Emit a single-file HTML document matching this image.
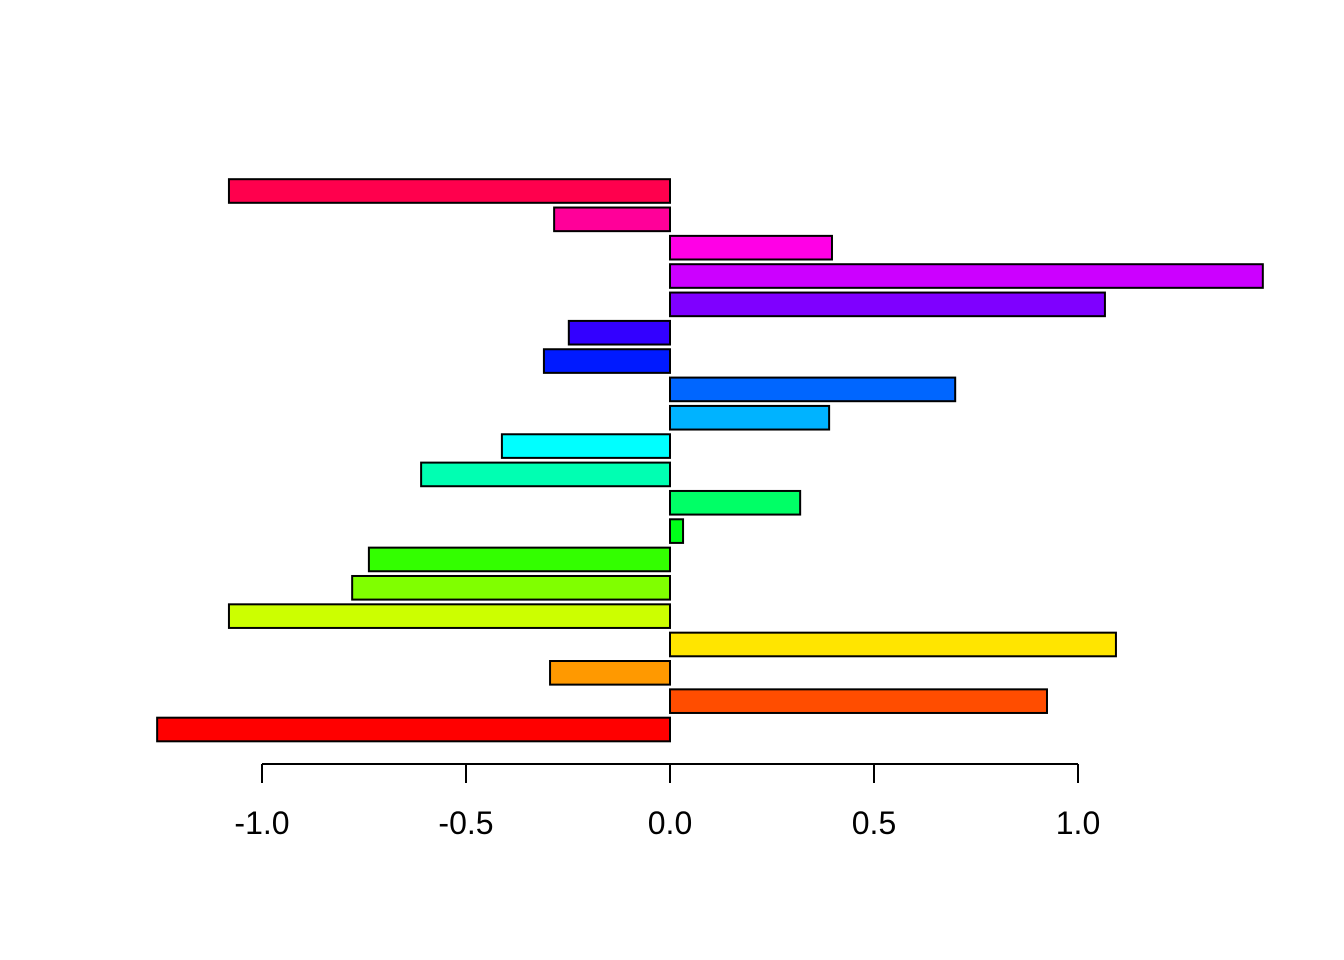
<!DOCTYPE html>
<html><head><meta charset="utf-8"><style>
html,body{margin:0;padding:0;background:#fff;}
svg{display:block;font-family:"Liberation Sans",Arial,sans-serif;}
</style></head><body>
<svg id="chart" width="1344" height="960" viewBox="0 0 1344 960" xmlns="http://www.w3.org/2000/svg">
<g id="bars"></g>
<g id="axis"></g>
</svg>
<script>
const values = [-1.257, 0.924, -0.294, 1.093, -1.081, -0.779, -0.738, 0.032, 0.319, -0.610, -0.412, 0.390, 0.699, -0.309, -0.248, 1.066, 1.453, 0.397, -0.284, -1.081];
const colors = ["#FF0000","#FF4D00","#FF9900","#FFE500","#CCFF00","#80FF00","#33FF00","#00FF19","#00FF66","#00FFB2","#00FFFF","#00B3FF","#0066FF","#001AFF","#3300FF","#7F00FF","#CC00FF","#FF00E6","#FF0099","#FF004D"];
const ticks = [-1.0, -0.5, 0.0, 0.5, 1.0];
const tickLabels = ["-1.0", "-0.5", "0.0", "0.5", "1.0"];

const NS = "http://www.w3.org/2000/svg";
const x = v => 670 + v * 408;
const step = (729.5 - 191) / 19;
const yc = i => 729.5 - i * step;
const bh = step / 1.2;

const bars = document.getElementById('bars');
values.forEach((v, i) => {
  const r = document.createElementNS(NS, 'rect');
  const x0 = Math.min(x(0), x(v)), w = Math.abs(x(v) - x(0));
  r.setAttribute('x', x0);
  r.setAttribute('y', yc(i) - bh / 2);
  r.setAttribute('width', w);
  r.setAttribute('height', bh);
  r.setAttribute('fill', colors[i]);
  r.setAttribute('stroke', '#000');
  r.setAttribute('stroke-width', '2');
  
  
  bars.appendChild(r);
});

const axis = document.getElementById('axis');
const line = document.createElementNS(NS, 'line');
line.setAttribute('x1', x(ticks[0])); line.setAttribute('x2', x(ticks[ticks.length - 1]));
line.setAttribute('y1', 764); line.setAttribute('y2', 764);
line.setAttribute('stroke', '#000'); line.setAttribute('stroke-width', '2');


axis.appendChild(line);
ticks.forEach((t, i) => {
  const tk = document.createElementNS(NS, 'line');
  tk.setAttribute('x1', x(t)); tk.setAttribute('x2', x(t));
  tk.setAttribute('y1', 764); tk.setAttribute('y2', 783);
  tk.setAttribute('stroke', '#000'); tk.setAttribute('stroke-width', '2');
  
  
  axis.appendChild(tk);
  const tx = document.createElementNS(NS, 'text');
  tx.setAttribute('x', x(t)); tx.setAttribute('y', 834);
  tx.setAttribute('text-anchor', 'middle');
  tx.setAttribute('font-size', '32');
  tx.textContent = tickLabels[i];
  
  
  axis.appendChild(tx);
});
</script>
</body></html>
